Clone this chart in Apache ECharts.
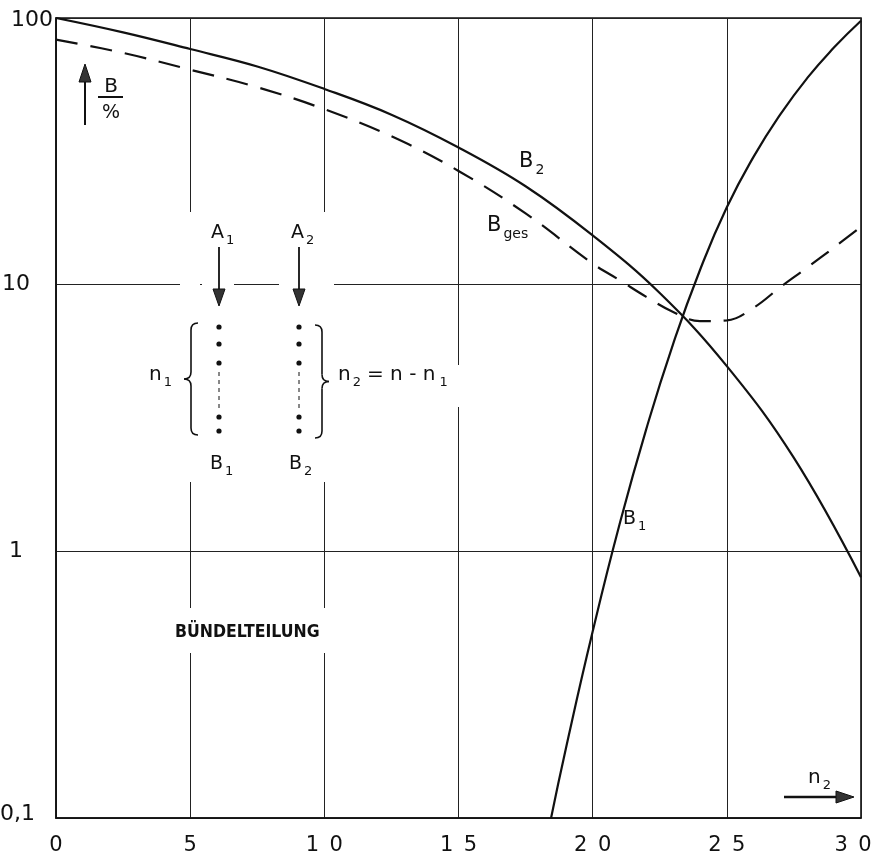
<!DOCTYPE html>
<html>
<head>
<meta charset="utf-8">
<script src="https://cdn.jsdelivr.net/npm/echarts@6/dist/echarts.min.js"></script>
<style>
  html, body { margin: 0; padding: 0; background: #fff; }
  #chart { width: 875px; height: 864px; }
</style>
</head>
<body>
<div id="chart"></div>
<script>
// Blocking B (%) versus size n2 of the second sub-bundle
const xTicks = [0, 5, 10, 15, 20, 25, 30];
const yTicks = [0.1, 1, 10, 100];

// B2: blocking of the second sub-bundle
const b2N = [0, 2.5, 5, 7.5, 10, 12.5, 15, 17.5, 20, 22.5, 25, 27.5, 30];
const b2B = [100, 88.3, 76.5, 65.8, 54.2, 43.4, 32.7, 23.4, 15.3, 9.3, 4.95, 2.24, 0.8];

// Bges: total blocking
const bgesN = [0, 2.5, 5, 7.5, 10, 12.5, 15, 17.5, 20, 21, 22, 23, 24, 25, 26, 27, 28, 29, 30];
const bgesB = [83, 74, 64, 55, 45.5, 36, 26.7, 18.5, 12, 10.4, 9.0, 7.9, 7.3, 7.35, 8.2, 9.8, 11.6, 13.8, 16.5];

// B1: blocking of the first sub-bundle
const b1N = [18.45, 19, 20, 21, 22, 23, 24, 25, 26, 27, 28, 29, 30];
const b1B = [0.1, 0.182, 0.5, 1.26, 2.88, 6.0, 11.35, 19.5, 30.2, 43.6, 59.6, 77.6, 97.7];

const pairs = (xs, ys) => xs.map((x, i) => [x, ys[i]]);

const INK = '#111';
const FONT = '"DejaVu Sans", sans-serif';

const chart = echarts.init(document.getElementById('chart'), null, { renderer: 'canvas' });

// text measuring for subscript placement
const measureCtx = document.createElement('canvas').getContext('2d');
function textWidth(s, font) { measureCtx.font = font; return measureCtx.measureText(s).width; }

// helpers for the hand-lettered annotations
function txt(x, y, s, size, opts) {
  opts = opts || {};
  return {
    type: 'text', z: 20,
    style: {
      text: s, x: x, y: y,
      font: (opts.weight || 'normal') + ' ' + size + 'px ' + (opts.family || FONT),
      fill: INK,
      align: opts.align || 'left', textAlign: opts.align || 'left',
      verticalAlign: 'middle', textVerticalAlign: 'middle'
    }
  };
}
// main text followed by a lowered subscript
function sub(x, y, main, s, size, subSize, gap) {
  const w = textWidth(main, 'normal ' + size + 'px ' + FONT);
  return [txt(x, y, main, size), txt(x + w + (gap == null ? 1 : gap), y + size * 0.4, s, subSize)];
}
function mask(x, y, w, h) {
  return { type: 'rect', z: 15, shape: { x: x, y: y, width: w, height: h }, style: { fill: '#fff' } };
}
function seg(x1, y1, x2, y2, w, dash) {
  return { type: 'line', z: 20, shape: { x1: x1, y1: y1, x2: x2, y2: y2 },
           style: { stroke: INK, lineWidth: w || 1.5, lineDash: dash || null } };
}
function head(points) {
  return { type: 'polygon', z: 21, shape: { points: points }, style: { fill: '#333', stroke: INK, lineWidth: 1 } };
}
function dot(x, y) {
  return { type: 'circle', z: 20, shape: { cx: x, cy: y, r: 2.6 }, style: { fill: INK } };
}
function quad(x1, y1, cx, cy, x2, y2) {
  return { type: 'bezierCurve', z: 20,
           shape: { x1: x1, y1: y1, x2: x2, y2: y2, cpx1: cx, cpy1: cy },
           style: { stroke: INK, fill: null, lineWidth: 1.6 } };
}
// curly brace along x between y1 and y2; dir = -1 tip points left, +1 tip points right
function brace(x, y1, y2, dir) {
  const r = 7, m = (y1 + y2) / 2, h = -dir * r;
  return [
    quad(x + h, y1, x, y1, x, y1 + r),
    seg(x, y1 + r, x, m - r, 1.6),
    quad(x, m - r, x, m, x + dir * r, m),
    quad(x + dir * r, m, x, m, x, m + r),
    seg(x, m + r, x, y2 - r, 1.6),
    quad(x, y2 - r, x, y2, x + h, y2)
  ];
}

const yLabelPad = { '100': 0, '10': 23, '1': 35, '0,1': 18 };

chart.setOption({
  animation: false,
  backgroundColor: '#fff',
  grid: {
    left: 56, right: 14, top: 18, bottom: 46,
    containLabel: false, outerBoundsMode: 'none',
    show: true, borderColor: INK, borderWidth: 1.6, backgroundColor: 'transparent'
  },
  xAxis: {
    type: 'value', min: xTicks[0], max: xTicks[xTicks.length - 1], interval: 5,
    axisLine: { show: true, lineStyle: { color: INK, width: 1.6 } },
    axisTick: { show: false },
    splitLine: { show: true, lineStyle: { color: '#222', width: 1 } },
    axisLabel: {
      color: INK, fontSize: 21, fontFamily: FONT, margin: 17,
      formatter: v => (v === 30 ? '{e|' : '{m|') + String(v).split('').join('\u2002') + '}',
      rich: {
        m: { fontSize: 21, fontFamily: FONT, color: INK },
        e: { fontSize: 21, fontFamily: FONT, color: INK, padding: [0, 16, 0, 0] }
      }
    }
  },
  yAxis: {
    type: 'log', logBase: 10, min: yTicks[0], max: yTicks[yTicks.length - 1],
    axisLine: { show: true, lineStyle: { color: INK, width: 1.6 } },
    axisTick: { show: false },
    splitLine: { show: true, lineStyle: { color: '#222', width: 1 } },
    axisLabel: {
      color: INK, fontSize: 22, fontFamily: FONT, margin: 3,
      formatter: v => {
        const s = String(+Number(v).toPrecision(3)).replace('.', ',');
        return '{p' + (yLabelPad[s] || 0) + '|' + s + '}';
      },
      rich: {
        p0: { fontSize: 22, fontFamily: FONT, color: INK, padding: [4, 0, 0, 0] },
        p23: { fontSize: 22, fontFamily: FONT, color: INK, padding: [0, 23, 0, 0] },
        p35: { fontSize: 22, fontFamily: FONT, color: INK, padding: [0, 30, 0, 0] },
        p18: { fontSize: 22, fontFamily: FONT, color: INK, padding: [0, 18, 8, 0] }
      }
    }
  },
  series: [
    {
      name: 'B2', type: 'line', data: pairs(b2N, b2B), smooth: 0.4, symbol: 'none', z: 10,
      lineStyle: { color: INK, width: 2.2 }
    },
    {
      name: 'Bges', type: 'line', data: pairs(bgesN, bgesB), smooth: 0.4, symbol: 'none', z: 10,
      lineStyle: { color: INK, width: 2.2, type: [22, 13] }
    },
    {
      name: 'B1', type: 'line', data: pairs(b1N, b1B), smooth: 0.5, symbol: 'none', z: 10,
      lineStyle: { color: INK, width: 2.2 }
    }
  ]
});

// Annotations: unit arrow, bundle sketch, curve names, axis arrow
let g = [];

// gaps in the grid behind the lettering
g.push(mask(202, 279, 32, 12));
g.push(mask(279, 279, 40, 12));
g.push(mask(180, 212, 20, 270));
g.push(mask(314, 212, 20, 270));
g.push(mask(450, 365, 16, 42));
g.push(mask(168, 608, 164, 45));

// B / % with upward arrow
g.push(seg(85, 125, 85, 80, 2));
g.push(head([[79, 82], [91, 82], [85, 64]]));
g.push(txt(111, 87, 'B', 20, { align: 'center' }));
g.push(seg(98, 97, 123, 97, 2));
g.push(txt(111, 113, '%', 19, { align: 'center' }));

// inputs A1, A2 with arrows
g = g.concat(sub(211, 233, 'A', '1', 19, 13, 2));
g.push(seg(219, 247, 219, 290, 1.8));
g.push(head([[213, 289], [225, 289], [219, 306]]));

g = g.concat(sub(291, 233, 'A', '2', 19, 13, 2));
g.push(seg(299, 247, 299, 290, 1.8));
g.push(head([[293, 289], [305, 289], [299, 306]]));

// trunk columns
[219, 299].forEach(x => {
  [327, 344, 363, 417, 431].forEach(y => g.push(dot(x, y)));
  g.push(seg(x, 372, x, 408, 1, [4, 4]));
});

// braces
g = g.concat(brace(191, 323, 435, -1));
g = g.concat(brace(322, 325, 438, 1));

// n1 and n2 = n - n1
g = g.concat(sub(149, 375, 'n', '1', 20, 13, 2));
g = g.concat(sub(338, 375, 'n', '2', 20, 13, 2));
g = g.concat(sub(367, 375, '= n - n', '1', 20, 13, 4));

// outputs B1, B2
g = g.concat(sub(210, 464, 'B', '1', 19, 13, 2));
g = g.concat(sub(289, 464, 'B', '2', 19, 13, 2));

g.push(txt(175, 632, 'BÜNDELTEILUNG', 17.5,
  { weight: 'bold', family: '"Liberation Sans Narrow", "DejaVu Sans Condensed", sans-serif' }));

// curve names
g = g.concat(sub(519, 162, 'B', '2', 21, 14, 2));
g = g.concat(sub(487, 226, 'B', 'ges', 21, 14, 2));
g = g.concat(sub(623, 519, 'B', '1', 19, 13, 2));

// n2 axis arrow
g = g.concat(sub(808, 778, 'n', '2', 20, 13, 2));
g.push(seg(784, 797, 838, 797, 2.4));
g.push(head([[836, 791], [836, 803], [854, 797]]));

chart.setOption({ graphic: { elements: g } });
</script>
</body>
</html>
